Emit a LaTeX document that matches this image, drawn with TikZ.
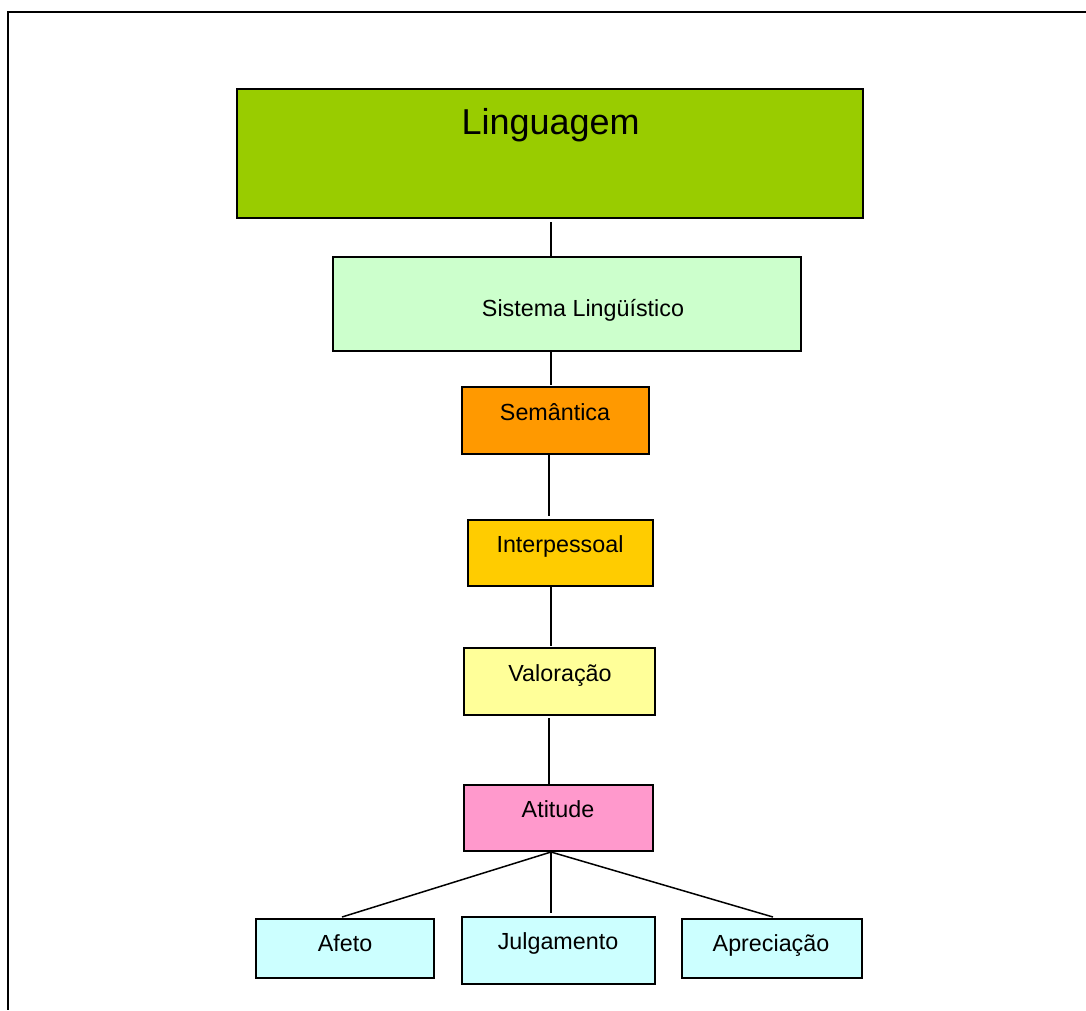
\documentclass[tikz,border=0pt]{standalone}
\usepackage{fontspec}
\setmainfont{Liberation Sans}
\definecolor{cLing}{HTML}{99CC00}
\definecolor{cSis}{HTML}{CCFFCC}
\definecolor{cSem}{HTML}{FF9900}
\definecolor{cInt}{HTML}{FFCC00}
\definecolor{cVal}{HTML}{FFFF99}
\definecolor{cAti}{HTML}{FF99CC}
\definecolor{cLeaf}{HTML}{CCFFFF}
\tikzset{
  box/.style={draw=black, line width=1.8pt, rectangle, inner sep=0pt, outer sep=0pt},
  lbl/.style={anchor=base, inner sep=0pt, font=\fontsize{23.3}{28}\selectfont},
  conn/.style={line width=1.5pt, black}
}
\begin{document}
\begin{tikzpicture}[x=1pt,y=-1pt]
\useasboundingbox (0,0) rectangle (1086,1010);
% frame
\draw[line width=2.2pt] (1086,12) -- (8,12) -- (8,1010);
\coordinate (axis) at (551,0);
% boxes
\node[box, fill=cLing, minimum width=626pt, minimum height=129pt] (ling) at (550,153.5) {};
\node[box, fill=cSis, minimum width=468pt, minimum height=94pt] (sis) at (567,304) {};
\node[box, fill=cSem, minimum width=187pt, minimum height=67pt] (sem) at (555.5,420.5) {};
\node[box, fill=cInt, minimum width=185pt, minimum height=66pt] (int) at (560.5,553) {};
\node[box, fill=cVal, minimum width=191pt, minimum height=67pt] (val) at (559.5,681.5) {};
\node[box, fill=cAti, minimum width=189pt, minimum height=66pt] (ati) at (558.5,818) {};
\node[box, fill=cLeaf, minimum width=178pt, minimum height=59pt] (afe) at (345,948.5) {};
\node[box, fill=cLeaf, minimum width=193pt, minimum height=67pt] (jul) at (558.5,950.5) {};
\node[box, fill=cLeaf, minimum width=180pt, minimum height=59pt] (apr) at (772,948.5) {};
% texts
\node[lbl, font=\fontsize{36}{42}\selectfont] (tling) at (550.6,134) {Linguagem};
\node[lbl] (tsis) at (583,316) {Sistema Lingüístico};
\node[lbl] (tsem) at (555,420) {Semântica};
\node[lbl] (tint) at (560,552) {Interpessoal};
\node[lbl] (tval) at (560,681) {Valoração};
\node[lbl] (tati) at (558,817) {Atitude};
\node[lbl] (tafe) at (345,951) {Afeto};
\node[lbl] (tjul) at (558,949) {Julgamento};
\node[lbl] (tapr) at (771,951) {Apreciação};
% connectors
\draw[conn] ([yshift=-4pt]ling.south -| axis) -- ([yshift=1pt]sis.north -| axis);
\draw[conn] ([yshift=-1pt]sis.south -| axis) -- ([yshift=2pt]sem.north -| axis);
\draw[conn] ([xshift=-2pt,yshift=-1pt]sem.south -| axis) -- ([xshift=-2pt,yshift=4pt]int.north -| axis);
\draw[conn] ([yshift=-1pt]int.south -| axis) -- ([yshift=2pt]val.north -| axis);
\draw[conn] ([xshift=-2pt,yshift=-3pt]val.south -| axis) -- ([xshift=-2pt]ati.north -| axis);
\coordinate (jn) at ([yshift=-1pt]ati.south -| axis);
\draw[conn] (jn) -- ([xshift=-3pt,yshift=2pt]afe.north);
\draw[conn] (jn) -- ([yshift=4pt]jul.north -| axis);
\draw[conn] (jn) -- ([xshift=1pt,yshift=2pt]apr.north);
\end{tikzpicture}
\end{document}
